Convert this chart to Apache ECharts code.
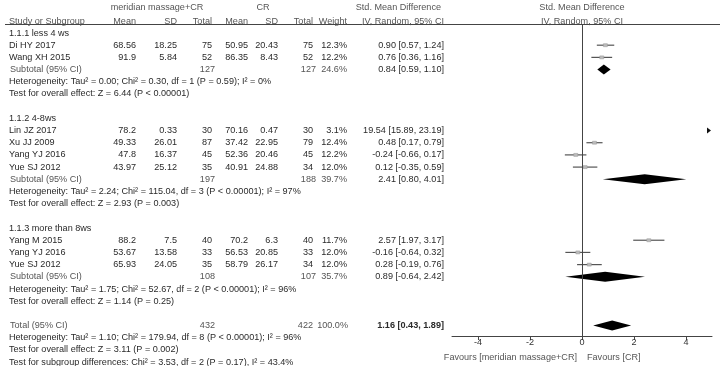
<!DOCTYPE html>
<html>
<head>
<meta charset="utf-8">
<script src="https://cdn.jsdelivr.net/npm/echarts@6/dist/echarts.min.js"></script>
<style>
  html, body { margin: 0; padding: 0; background: #fff; }
  #chart { width: 720px; height: 366px; }
</style>
</head>
<body>
<div id="chart"></div>
<script>
  // subgroups
  const groups = ['1.1.1 less 4 ws', '1.1.2 4-8ws', '1.1.3 more than 8ws']
  const groupSize = [2, 4, 3]

  // studies, in row order
  const studies = ['Di HY 2017', 'Wang XH 2015', 'Lin JZ 2017', 'Xu JJ 2009', 'Yang YJ 2016', 'Yue SJ 2012', 'Yang M 2015', 'Yang YJ 2016', 'Yue SJ 2012']
  const expMean = [68.56, 91.9, 78.2, 49.33, 47.8, 43.97, 88.2, 53.67, 65.93]
  const expSD = [18.25, 5.84, 0.33, 26.01, 16.37, 25.12, 7.5, 13.58, 24.05]
  const expTotal = [75, 52, 30, 87, 45, 35, 40, 33, 35]
  const ctlMean = [50.95, 86.35, 70.16, 37.42, 52.36, 40.91, 70.2, 56.53, 58.79]
  const ctlSD = [20.43, 8.43, 0.47, 22.95, 20.46, 24.88, 6.3, 20.85, 26.17]
  const ctlTotal = [75, 52, 30, 79, 45, 34, 40, 33, 34]
  const weight = [12.3, 12.2, 3.1, 12.4, 12.2, 12.0, 11.7, 12.0, 12.0]
  const smd = [0.90, 0.76, 19.54, 0.48, -0.24, 0.12, 2.57, -0.16, 0.28]
  const smdLo = [0.57, 0.36, 15.89, 0.17, -0.66, -0.35, 1.97, -0.64, -0.19]
  const smdHi = [1.24, 1.16, 23.19, 0.79, 0.17, 0.59, 3.17, 0.32, 0.76]

  // subgroup summaries
  const subExpTotal = [127, 197, 108]
  const subCtlTotal = [127, 188, 107]
  const subWeight = [24.6, 39.7, 35.7]
  const subSmd = [0.84, 2.41, 0.89]
  const subLo = [0.59, 0.80, -0.64]
  const subHi = [1.10, 4.01, 2.42]
  const subHet = [
    'Tau² = 0.00; Chi² = 0.30, df = 1 (P = 0.59); I² = 0%',
    'Tau² = 2.24; Chi² = 115.04, df = 3 (P < 0.00001); I² = 97%',
    'Tau² = 1.75; Chi² = 52.67, df = 2 (P < 0.00001); I² = 96%'
  ]
  const subZ = ['Z = 6.44 (P < 0.00001)', 'Z = 2.93 (P = 0.003)', 'Z = 1.14 (P = 0.25)']

  // overall
  const totalExp = 432
  const totalCtl = 422
  const totalWeight = 100.0
  const totalSmd = 1.16
  const totalLo = 0.43
  const totalHi = 1.89
  const totalHet = 'Tau² = 1.10; Chi² = 179.94, df = 8 (P < 0.00001); I² = 96%'
  const totalZ = 'Z = 3.11 (P = 0.002)'
  const subgroupTest = 'Chi² = 3.53, df = 2 (P = 0.17), I² = 43.4%'

  const xTicks = [-4, -2, 0, 2, 4]

  // layout
  const FONT = '"Liberation Sans", Arial, sans-serif'
  const FS = 9.1
  const DARK = '#2a2a2a'
  const GREY = '#555'
  const COL = { name: 9, em: 136, esd: 177, et: 212, cm: 248, csd: 278, ct: 313, w: 347, ci: 444 }

  const ci = (e, l, h) => `${e.toFixed(2)} [${l.toFixed(2)}, ${h.toFixed(2)}]`

  let cells = []
  let marks = []
  const cell = (x, row, text, align, color, bold) =>
    cells.push({ x, row, text, align: align || 'left', color: color || DARK, bold: !!bold })

  // header
  cell(157, -2.13, 'meridian massage+CR', 'center', GREY)
  cell(263, -2.13, 'CR', 'center', GREY)
  cell(441, -2.13, 'Std. Mean Difference', 'right', GREY)
  cell(582, -2.13, 'Std. Mean Difference', 'center', GREY)
  cell(COL.name, -0.98, 'Study or Subgroup', 'left', GREY)
  cell(COL.em, -0.98, 'Mean', 'right', GREY)
  cell(COL.esd, -0.98, 'SD', 'right', GREY)
  cell(COL.et, -0.98, 'Total', 'right', GREY)
  cell(COL.cm, -0.98, 'Mean', 'right', GREY)
  cell(COL.csd, -0.98, 'SD', 'right', GREY)
  cell(COL.ct, -0.98, 'Total', 'right', GREY)
  cell(COL.w, -0.98, 'Weight', 'right', GREY)
  cell(COL.ci, -0.98, 'IV, Random, 95% CI', 'right', GREY)
  cell(582, -0.98, 'IV, Random, 95% CI', 'center', GREY)

  let r = 0
  let k = 0
  groups.forEach((g, gi) => {
    cell(COL.name, r, g)
    r++
    for (let j = 0; j < groupSize[gi]; j++, k++, r++) {
      cell(COL.name, r, studies[k])
      cell(COL.em, r, String(expMean[k]), 'right')
      cell(COL.esd, r, String(expSD[k]), 'right')
      cell(COL.et, r, String(expTotal[k]), 'right')
      cell(COL.cm, r, String(ctlMean[k]), 'right')
      cell(COL.csd, r, String(ctlSD[k]), 'right')
      cell(COL.ct, r, String(ctlTotal[k]), 'right')
      cell(COL.w, r, weight[k].toFixed(1) + '%', 'right')
      cell(COL.ci, r, ci(smd[k], smdLo[k], smdHi[k]), 'right')
      marks.push([smd[k], r, smdLo[k], smdHi[k], 0])
    }
    cell(COL.name + 1, r, 'Subtotal (95% CI)', 'left', GREY)
    cell(COL.et + 3, r, String(subExpTotal[gi]), 'right', GREY)
    cell(COL.ct + 3, r, String(subCtlTotal[gi]), 'right', GREY)
    cell(COL.w, r, subWeight[gi].toFixed(1) + '%', 'right', GREY)
    cell(COL.ci, r, ci(subSmd[gi], subLo[gi], subHi[gi]), 'right')
    marks.push([subSmd[gi], r, subLo[gi], subHi[gi], 1])
    r++
    cell(COL.name, r++, 'Heterogeneity: ' + subHet[gi])
    cell(COL.name, r++, 'Test for overall effect: ' + subZ[gi])
    r++
  })
  cell(COL.name + 1, r, 'Total (95% CI)', 'left', GREY)
  cell(COL.et + 3, r, String(totalExp), 'right', GREY)
  cell(COL.ct, r, String(totalCtl), 'right', GREY)
  cell(COL.w + 1, r, totalWeight.toFixed(1) + '%', 'right', GREY)
  cell(COL.ci, r, ci(totalSmd, totalLo, totalHi), 'right', DARK, true)
  marks.push([totalSmd, r, totalLo, totalHi, 1])
  r++
  cell(COL.name, r++, 'Heterogeneity: ' + totalHet)
  cell(COL.name, r++, 'Test for overall effect: ' + totalZ)
  cell(COL.name, r++, 'Test for subgroup differences: ' + subgroupTest)

  const X_MIN = -5
  const X_MAX = 5

  function renderMark(params, api) {
    const est = api.value(0), row = api.value(1), lo = api.value(2), hi = api.value(3), kind = api.value(4)
    const cs = params.coordSys
    const y = api.coord([0, row])[1]
    if (kind === 1) {
      const a = api.coord([lo, row])[0], b = api.coord([est, row])[0], c = api.coord([hi, row])[0]
      return {
        type: 'polygon',
        shape: { points: [[a, y], [b, y - 5], [c, y], [b, y + 5]] },
        style: { fill: '#000' }
      }
    }
    if (lo > X_MAX) {
      const x = cs.x + cs.width - 2
      return {
        type: 'polygon',
        shape: { points: [[x - 3, y - 3], [x + 1, y], [x - 3, y + 3]] },
        style: { fill: '#111' }
      }
    }
    const a = api.coord([Math.max(lo, X_MIN), row])[0]
    const c = api.coord([Math.min(hi, X_MAX), row])[0]
    const b = api.coord([est, row])[0]
    return {
      type: 'group',
      children: [
        { type: 'line', shape: { x1: a, y1: y, x2: c, y2: y }, style: { stroke: '#555', lineWidth: 1.2 } },
        { type: 'rect', shape: { x: b - 2, y: y - 1.5, width: 4, height: 3 }, style: { fill: '#bbb', stroke: '#999', lineWidth: 0.5 } }
      ]
    }
  }

  function renderCell(params, api) {
    const c = cells[params.dataIndex]
    const p = api.coord([c.x, c.row])
    return {
      type: 'text',
      x: p[0],
      y: p[1],
      style: {
        text: c.text,
        fill: c.color,
        font: `${c.bold ? 'bold ' : ''}${FS}px ${FONT}`,
        align: c.align,
        verticalAlign: 'middle'
      }
    }
  }

  // row r sits at y = 33 + 12.19 * r
  const ROW0 = 33, ROWH = 12.19
  const plotTop = 25, plotBottom = 336

  let chart = echarts.init(document.getElementById('chart'), null, { renderer: 'canvas' })
  chart.setOption({
    animation: false,
    grid: [
      { left: 452, width: 260, top: plotTop, height: plotBottom - plotTop },
      { left: 0, width: 720, top: 0, height: 366 }
    ],
    xAxis: [
      {
        gridIndex: 0, type: 'value', min: X_MIN, max: X_MAX, position: 'bottom',
        axisLine: { show: true, onZero: false, lineStyle: { color: '#444', width: 1 } },
        axisTick: { show: true, customValues: xTicks, length: 4, lineStyle: { color: '#444' } },
        axisLabel: { customValues: xTicks, color: '#333', fontSize: FS, fontFamily: FONT, margin: 2 },
        splitLine: { show: false }
      },
      { gridIndex: 1, type: 'value', min: 0, max: 720, show: false }
    ],
    yAxis: [
      {
        gridIndex: 0, type: 'value', inverse: true, show: false,
        min: (plotTop - ROW0) / ROWH, max: (plotBottom - ROW0) / ROWH
      },
      {
        gridIndex: 1, type: 'value', inverse: true, show: false,
        min: -ROW0 / ROWH, max: (366 - ROW0) / ROWH
      }
    ],
    series: [
      {
        type: 'custom',
        xAxisIndex: 1, yAxisIndex: 1,
        data: cells.map(c => [c.x, c.row]),
        renderItem: renderCell,
        silent: true
      },
      {
        type: 'custom',
        xAxisIndex: 0, yAxisIndex: 0,
        data: marks,
        encode: { x: [0, 2, 3], y: 1 },
        renderItem: renderMark,
        silent: true,
        markLine: {
          silent: true,
          symbol: 'none',
          label: { show: false },
          lineStyle: { color: '#444', width: 1, type: 'solid' },
          data: [{ xAxis: 0 }]
        }
      }
    ],
    graphic: [
      { type: 'line', shape: { x1: 5, y1: 24.5, x2: 720, y2: 24.5 }, style: { stroke: '#444', lineWidth: 1 } },
      {
        type: 'text', x: 577, y: 357,
        style: { text: 'Favours [meridian massage+CR]', fill: GREY, font: `${FS}px ${FONT}`, align: 'right', verticalAlign: 'middle' }
      },
      {
        type: 'text', x: 587, y: 357,
        style: { text: 'Favours [CR]', fill: GREY, font: `${FS}px ${FONT}`, align: 'left', verticalAlign: 'middle' }
      }
    ]
  })
</script>
</body>
</html>
